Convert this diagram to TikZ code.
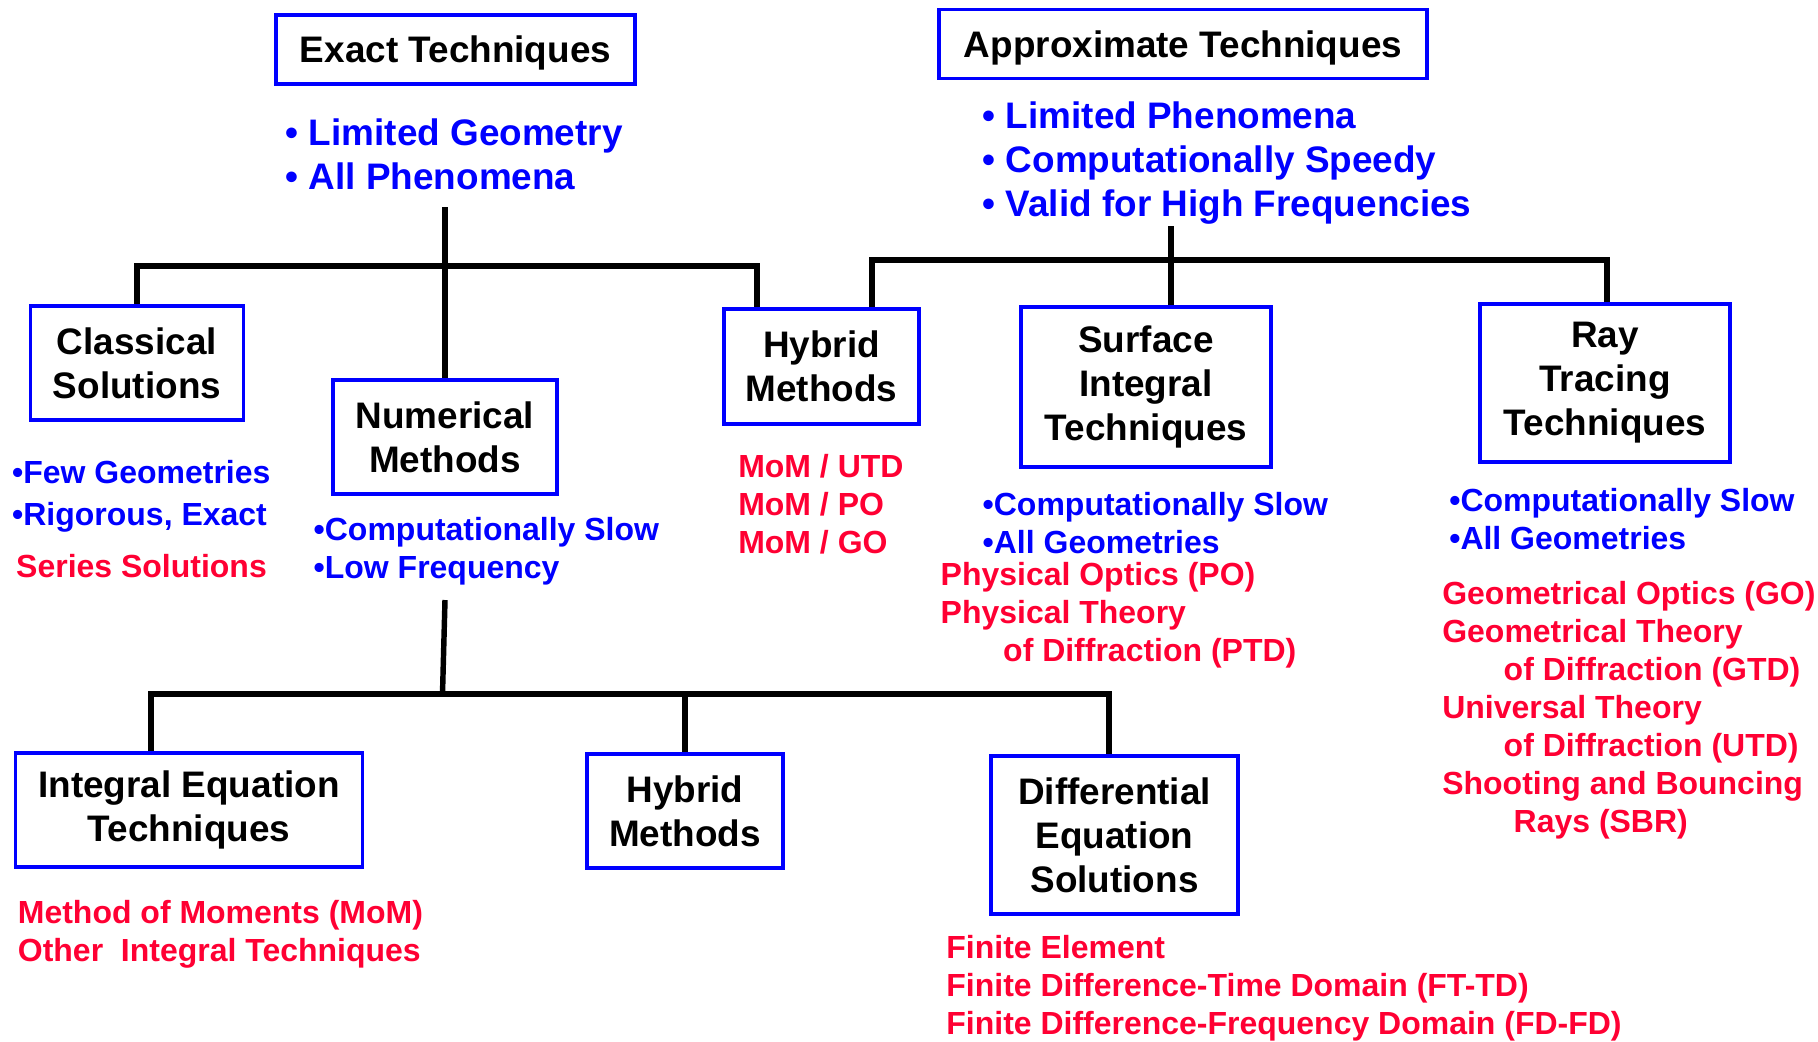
\documentclass[tikz,border=0pt]{standalone}
\usepackage{fontspec}
\setmainfont{Liberation Sans}
\usetikzlibrary{positioning}
\definecolor{cemblue}{RGB}{0,0,255}
\definecolor{cemred}{RGB}{255,0,51}

\begin{document}
\begin{tikzpicture}[
      box/.style={draw=cemblue, line width=1.1pt, fill=white, inner sep=0pt,
                  font=\bfseries\fontsize{10.5}{12.5}\selectfont, align=center},
      headnote/.style={anchor=base west, inner sep=0pt, text=cemblue, align=left,
                       font=\bfseries\fontsize{10.5}{12.5}\selectfont},
      pronote/.style={anchor=base west, inner sep=0pt, text=cemblue, align=left,
                      font=\bfseries\fontsize{9.1}{10.8}\selectfont},
      methnote/.style={pronote, text=cemred},
      link/.style={line width=1.55pt, black}]
    \useasboundingbox (0,0) rectangle (18.18,-10.41);
    % top level: exact and approximate (notes sit on the baseline of their last line)
    \node[box, text depth=0pt, minimum width=3.59cm, minimum height=0.69cm] (exact) at (4.555,-0.495) {Exact Techniques};
    \node[headnote] (exnotes) at (2.85,-1.89) {\textbullet\ Limited Geometry\\\textbullet\ All Phenomena};
    \node[box, text depth=0pt, minimum width=4.88cm, minimum height=0.69cm] (approx) at (11.83,-0.44) {Approximate Techniques};
    \node[headnote] (apnotes) at (9.82,-2.16) {\textbullet\ Limited Phenomena\\\textbullet\ Computationally Speedy\\\textbullet\ Valid for High Frequencies};
    % second level
    \node[box, minimum width=2.13cm, minimum height=1.14cm] (classic) at (1.37,-3.63) {Classical\\Solutions};
    \node[pronote] (clnotes) at (0.115,-5.25) {\textbullet Few Geometries\\[1pt]\textbullet Rigorous, Exact};
    \node[methnote] (clmeth) at (0.155,-5.77) {Series Solutions};
    \node[box, minimum width=2.24cm, minimum height=1.14cm] (num) at (4.45,-4.37) {Numerical\\Methods};
    \node[pronote] (nmnotes) at (3.13,-5.785) {\textbullet Computationally Slow\\\textbullet Low Frequency};
    \node[box, minimum width=1.95cm, minimum height=1.15cm] (hybtop) at (8.215,-3.665) {Hybrid\\Methods};
    \node[methnote] (hbmeth) at (7.376,-5.53) {MoM / UTD\\MoM / PO\\MoM / GO};
    \node[box, minimum width=2.50cm, minimum height=1.60cm] (surf) at (11.46,-3.87) {Surface\\Integral\\Techniques};
    \node[pronote] (sfnotes) at (9.82,-5.53) {\textbullet Computationally Slow\\\textbullet All Geometries};
    \node[methnote] (sfmeth) at (9.40,-6.615) {Physical Optics (PO)\\Physical Theory\\\hspace*{0.625cm}of Diffraction (PTD)};
    \node[box, minimum width=2.50cm, minimum height=1.58cm] (ray) at (16.05,-3.83) {Ray\\Tracing\\Techniques};
    \node[pronote] (rynotes) at (14.486,-5.495) {\textbullet Computationally Slow\\\textbullet All Geometries};
    \node[methnote] (rymeth) at (14.416,-8.32) {Geometrical Optics (GO)\\Geometrical Theory\\\hspace*{0.614cm}of Diffraction (GTD)\\Universal Theory\\\hspace*{0.614cm}of Diffraction (UTD)\\Shooting and Bouncing\\\hspace*{0.714cm}Rays (SBR)};
    % third level under numerical methods
    \node[box, minimum width=3.47cm, minimum height=1.14cm] (iet) at (1.89,-8.10) {Integral Equation\\Techniques};
    \node[methnote] (ietmeth) at (0.172,-9.61) {Method of Moments (MoM)\\Other\ \ Integral Techniques};
    \node[box, minimum width=1.96cm, minimum height=1.14cm] (hybbot) at (6.85,-8.11) {Hybrid\\Methods};
    \node[box, minimum width=2.47cm, minimum height=1.58cm] (des) at (11.145,-8.35) {Differential\\Equation\\Solutions};
    \node[methnote] (desmeth) at (9.457,-10.34) {Finite Element\\Finite Difference-Time Domain (FT-TD)\\Finite Difference-Frequency Domain (FD-FD)};
    % tree junctions
    \coordinate (extrunk) at (4.45,-2.07);
    \coordinate (exl) at (1.37,-2.66);
    \coordinate (exr) at (7.57,-2.66);
    \coordinate (aptrunk) at (11.71,-2.26);
    \coordinate (apl) at (8.72,-2.60);
    \coordinate (apr) at (16.07,-2.60);
    \coordinate (nmtrunk) at (4.45,-6.00);
    \coordinate (nmj) at (4.425,-6.94);
    \coordinate (nml) at (1.51,-6.94);
    \coordinate (nmr) at (11.09,-6.94);
    % connectors
    \draw[link] (extrunk) -- (num.north);
    \draw[link] (classic.north) -- (exl) -- (exr) -- (exr |- hybtop.north);
    \draw[link] (aptrunk) -- (aptrunk |- surf.north);
    \draw[link] (apl |- hybtop.north) -- (apl) -- (apr) -- (apr |- ray.north);
    \draw[link] (nmtrunk) -- (nmj);
    \draw[link] (nml |- iet.north) -- (nml) -- (nmr) -- (nmr |- des.north);
    \draw[link] (hybbot.north) -- (hybbot.north |- nml);
  \end{tikzpicture}
\end{document}
